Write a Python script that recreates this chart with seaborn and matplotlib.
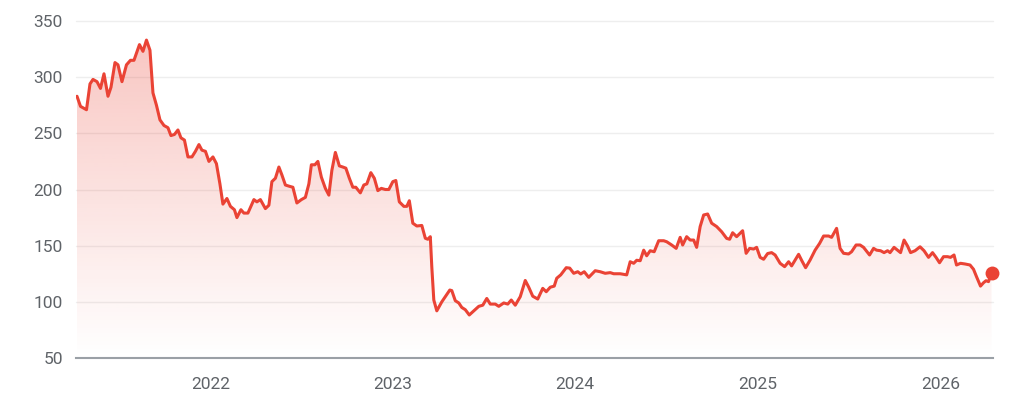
import numpy as np
import pandas as pd
import matplotlib
matplotlib.use("Agg")
import matplotlib.pyplot as plt
import matplotlib.dates as mdates
import seaborn as sns

dates = [
    "2021-04-09", "2021-04-16", "2021-04-28", "2021-05-05", "2021-05-11", "2021-05-19", "2021-05-26",
    "2021-06-02", "2021-06-10", "2021-06-16", "2021-06-24", "2021-06-30", "2021-07-08", "2021-07-17",
    "2021-07-25", "2021-08-01", "2021-08-12", "2021-08-19", "2021-08-26", "2021-09-02", "2021-09-08",
    "2021-09-15", "2021-09-22", "2021-09-30", "2021-10-08", "2021-10-14", "2021-10-21", "2021-10-28",
    "2021-11-03", "2021-11-10", "2021-11-17", "2021-11-25", "2021-12-02", "2021-12-09", "2021-12-15",
    "2021-12-22", "2021-12-29",
    "2022-01-06", "2022-01-13", "2022-01-20", "2022-01-26", "2022-02-03", "2022-02-10", "2022-02-18",
    "2022-02-23", "2022-03-03", "2022-03-09", "2022-03-17", "2022-03-29", "2022-04-04", "2022-04-11",
    "2022-04-21", "2022-04-28", "2022-05-04", "2022-05-11", "2022-05-18", "2022-05-24", "2022-05-31",
    "2022-06-07", "2022-06-15", "2022-06-23", "2022-07-02", "2022-07-10", "2022-07-17", "2022-07-22",
    "2022-07-29", "2022-08-04", "2022-08-11", "2022-08-19", "2022-08-26", "2022-09-01", "2022-09-08",
    "2022-09-16", "2022-09-23", "2022-09-29", "2022-10-06", "2022-10-13", "2022-10-19", "2022-10-28",
    "2022-11-04", "2022-11-10", "2022-11-18", "2022-11-25", "2022-12-02", "2022-12-09", "2022-12-17",
    "2022-12-24",
    "2023-01-01", "2023-01-07", "2023-01-14", "2023-01-23", "2023-01-29", "2023-02-03", "2023-02-10",
    "2023-02-18", "2023-02-28", "2023-03-07", "2023-03-12", "2023-03-17", "2023-03-20", "2023-03-24",
    "2023-03-30", "2023-04-09", "2023-04-16", "2023-04-25", "2023-04-29", "2023-05-06", "2023-05-13",
    "2023-05-19", "2023-05-26", "2023-06-03", "2023-06-12", "2023-06-22", "2023-06-30", "2023-07-08",
    "2023-07-15", "2023-07-25", "2023-08-01", "2023-08-11", "2023-08-19", "2023-08-26", "2023-09-03",
    "2023-09-13", "2023-09-23", "2023-09-30", "2023-10-08", "2023-10-18", "2023-10-28", "2023-11-04",
    "2023-11-12", "2023-11-20", "2023-11-25", "2023-12-03", "2023-12-14", "2023-12-21", "2023-12-29",
    "2024-01-06", "2024-01-12", "2024-01-19", "2024-01-28", "2024-02-10", "2024-02-20", "2024-03-01",
    "2024-03-11", "2024-03-18", "2024-03-31", "2024-04-13", "2024-04-20", "2024-04-27", "2024-05-03",
    "2024-05-10", "2024-05-17", "2024-05-23", "2024-05-30", "2024-06-07", "2024-06-16", "2024-06-26",
    "2024-07-02", "2024-07-12", "2024-07-21", "2024-07-29", "2024-08-03", "2024-08-11", "2024-08-18",
    "2024-08-25", "2024-08-31", "2024-09-07", "2024-09-14", "2024-09-22", "2024-09-30", "2024-10-10",
    "2024-10-20", "2024-10-30", "2024-11-05", "2024-11-11", "2024-11-19", "2024-12-01", "2024-12-08",
    "2024-12-15", "2024-12-23", "2024-12-29",
    "2025-01-05", "2025-01-12", "2025-01-20", "2025-01-28", "2025-02-04", "2025-02-14", "2025-02-23",
    "2025-03-03", "2025-03-09", "2025-03-23", "2025-03-29", "2025-04-06", "2025-04-15", "2025-04-25",
    "2025-05-04", "2025-05-12", "2025-05-22", "2025-05-28", "2025-06-07", "2025-06-14", "2025-06-21",
    "2025-07-01", "2025-07-07", "2025-07-16", "2025-07-24", "2025-07-31", "2025-08-12", "2025-08-20",
    "2025-08-26", "2025-09-03", "2025-09-10", "2025-09-17", "2025-09-22", "2025-09-30", "2025-10-07",
    "2025-10-13", "2025-10-20", "2025-10-27", "2025-11-02", "2025-11-11", "2025-11-21", "2025-11-29",
    "2025-12-08", "2025-12-16", "2025-12-23", "2025-12-30",
    "2026-01-07", "2026-01-15", "2026-01-21", "2026-01-28", "2026-02-02", "2026-02-10", "2026-02-19",
    "2026-03-01", "2026-03-08", "2026-03-14", "2026-03-22", "2026-03-28", "2026-04-02", "2026-04-07",
    "2026-04-13",
]

prices = [
    283, 274, 271, 294, 298, 296, 290, 303, 283, 291, 313, 311, 296, 311, 315, 315, 329, 323, 333, 324,
    286, 275, 262, 257, 255, 248, 249, 253, 246, 244, 229, 229, 234, 240, 235, 234, 225,
    229, 223, 205, 187, 192, 185, 182, 175, 182, 179, 179, 191, 189, 191, 183, 186, 207, 210, 220, 213,
    204, 203, 202, 188, 191, 193, 205, 222, 222, 225, 211, 201, 195, 217, 233, 221, 220, 219, 210, 202,
    202, 197, 204, 205, 215, 210, 199, 201, 200, 200,
    207, 208, 189, 185, 185, 190, 170, 167.5, 168, 156.6, 155.7, 158, 131, 101.6, 92, 100, 104.6, 110.5,
    110, 101, 99, 95, 93, 88.3, 92, 96, 97, 103, 98, 98, 96, 99, 98, 101.6, 97, 104.6, 119, 113, 105,
    102.5, 112, 109, 113, 114, 121, 124, 130.4, 130, 125.4,
    126.8, 124.8, 126.8, 121.8, 127.7, 126.8, 125.4, 126, 125, 125, 124, 135.7, 134.3, 137, 136.6, 146,
    141, 145.5, 144.6, 154.4, 154.4, 153.5, 150.6, 147.6, 157.4, 150.6, 158, 155, 155, 148.5, 167, 177.3,
    178.2, 170, 167, 162.4, 156.5, 155.7, 161.5, 158, 163.3, 143.2, 147.6, 147, 148.5,
    139.6, 137.9, 143, 143.8, 141.7, 134.3, 131.3, 135.7, 132, 142.3, 137, 130.4, 137.2, 146, 152, 158.6,
    158.6, 157.4, 165.4, 147.6, 143.2, 142.6, 144.6, 150.6, 150.6, 148.5, 141.7, 147.6, 146, 145.5, 143.8,
    145.5, 143.8, 148.5, 146, 143.8, 155, 149.7, 143.8, 145.5, 149, 145.5, 139.6, 143.8, 139.6, 134.8,
    140.2, 140.2, 139.6, 141.7, 132.8, 134.3, 133.7, 132.8, 129, 122.4, 114, 117, 118.8, 118, 125.4,
]

y_ticks = [50, 100, 150, 200, 250, 300, 350]
x_tick_years = ["2022", "2023", "2024", "2025", "2026"]

RED = "#EA4335"
GRID = "#EEEEEE"
AXIS = "#9AA0A6"
TEXT = "#5F6368"

sns.set_theme(style="white")
plt.rcParams["font.family"] = ["Roboto", "DejaVu Sans"]

df = pd.DataFrame({"date": pd.to_datetime(dates), "price": prices})

fig = plt.figure(figsize=(10.26, 4.09), dpi=100)
ax = fig.add_axes([76 / 1026, 1 - 358 / 409, (993 - 76) / 1026, (358 - 21) / 409])

# gradient fill under the line
xnum = mdates.date2num(df["date"])
poly = ax.fill_between(xnum, df["price"], 50, facecolor="none", edgecolor="none")
clip = poly.get_paths()[0]
n = 256
alphas = np.linspace(0.0, 0.30, n)
rgba = np.zeros((n, 1, 4))
rgba[..., :3] = matplotlib.colors.to_rgb(RED)
rgba[:, 0, 3] = alphas
im = ax.imshow(rgba, extent=[xnum[0], xnum[-1], 50, max(prices)], origin="lower",
               aspect="auto", zorder=1, interpolation="bilinear")
im.set_clip_path(clip, transform=ax.transData)

sns.lineplot(data=df, x="date", y="price", ax=ax, color=RED, linewidth=2.2, zorder=3)
for ln in ax.get_lines():
    ln.set_solid_joinstyle("round")
    ln.set_solid_capstyle("round")
ax.scatter([df["date"].iloc[-1]], [df["price"].iloc[-1]], s=100, color=RED, zorder=6,
           linewidths=0, clip_on=False)

ax.set_xlim(pd.Timestamp("2021-04-07"), pd.Timestamp("2026-04-16"))
ax.set_ylim(50, 350)
ax.set_yticks(y_ticks)
ax.set_xticks([pd.Timestamp(f"{y}-01-01") for y in x_tick_years])
ax.set_xticklabels(x_tick_years)

for yv in y_ticks[1:]:
    ax.axhline(yv, color=GRID, linewidth=1.0, zorder=0, clip_on=False)

for s in ["top", "right", "left"]:
    ax.spines[s].set_visible(False)
ax.spines["bottom"].set_color(AXIS)
ax.spines["bottom"].set_linewidth(1.5)
ax.spines["bottom"].set_zorder(5)

ax.tick_params(axis="y", length=0, pad=9.5, labelsize=12.5, labelcolor=TEXT)
ax.tick_params(axis="x", length=6, width=1.3, color="#70757A", pad=8, labelsize=12.5, labelcolor=TEXT)
ax.set_xlabel("")
ax.set_ylabel("")
ax.grid(False)

fig.savefig("out.png", dpi=100, facecolor="white")
